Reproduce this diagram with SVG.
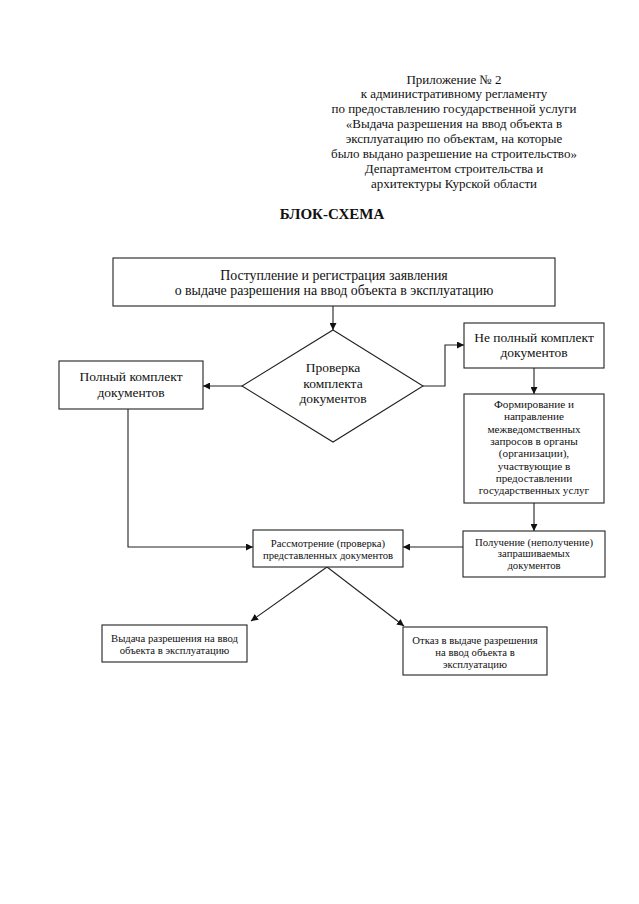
<svg xmlns="http://www.w3.org/2000/svg" width="639" height="904" viewBox="0 0 639 904">
<defs>
<style>
text{font-family:"Liberation Serif","Times New Roman",serif;fill:#111;text-anchor:middle}
.h{font-size:13px}
.m{font-size:13.5px}
.b{font-size:13.9px}
.f{font-size:11.2px}
.s{font-size:10.7px}
.t{font-size:15px;font-weight:bold}
.box{fill:#fff;stroke:#222;stroke-width:1.1}
.ln{fill:none;stroke:#222;stroke-width:1.1}
</style>
<marker id="ah" viewBox="0 0 10 10" refX="10" refY="5" markerWidth="7" markerHeight="7" orient="auto" markerUnits="userSpaceOnUse">
<path d="M0,0 L10,5 L0,10 z" fill="#111"/>
</marker>
</defs>
<rect width="639" height="904" fill="#fff"/>
<g id="header">
<text class="h" x="454" y="83.5">Приложение № 2</text>
<text class="h" x="454" y="98.4">к административному регламенту</text>
<text class="h" x="454" y="113.3">по предоставлению государственной услуги</text>
<text class="h" x="454" y="128.2">«Выдача разрешения на ввод объекта в</text>
<text class="h" x="454" y="143.1">эксплуатацию по объектам, на которые</text>
<text class="h" x="454" y="158">было выдано разрешение на строительство»</text>
<text class="h" x="454" y="172.9">Департаментом строительства и</text>
<text class="h" x="454" y="187.8">архитектуры Курской области</text>
</g>
<g id="title"><text class="t" x="332" y="218.5">БЛОК-СХЕМА</text></g>
<g id="connectors">
<path class="ln" d="M333,306 V330" marker-end="url(#ah)"/>
<path class="ln" d="M242,386 H203" marker-end="url(#ah)"/>
<path class="ln" d="M423,386 H445 V345 H464" marker-end="url(#ah)"/>
<path class="ln" d="M534,368 V394" marker-end="url(#ah)"/>
<path class="ln" d="M534,503 V531" marker-end="url(#ah)"/>
<path class="ln" d="M128,409 V547 H253" marker-end="url(#ah)"/>
<path class="ln" d="M463,547 H403" marker-end="url(#ah)"/>
<path class="ln" d="M327,567 L251,621" marker-end="url(#ah)"/>
<path class="ln" d="M327,567 L404,626" marker-end="url(#ah)"/>
</g>
<g id="n1">
<rect class="box" x="113" y="258" width="442" height="48"/>
<text class="b" x="334" y="280">Поступление и регистрация заявления</text>
<text class="b" x="334" y="294.5">о выдаче разрешения на ввод объекта в эксплуатацию</text>
</g>
<g id="n2">
<polygon class="box" points="333,330 423,386 333,442 242,386"/>
<text class="m" x="333" y="372">Проверка</text>
<text class="m" x="333" y="388">комплекта</text>
<text class="m" x="333" y="403">документов</text>
</g>
<g id="n3">
<rect class="box" x="59" y="361" width="144" height="48"/>
<text class="m" x="131" y="381">Полный комплект</text>
<text class="m" x="131" y="397">документов</text>
</g>
<g id="n4">
<rect class="box" x="464" y="323" width="140" height="45"/>
<text class="m" x="534" y="342">Не полный комплект</text>
<text class="m" x="534" y="357">документов</text>
</g>
<g id="n5">
<rect class="box" x="464" y="394" width="140" height="109"/>
<text class="f" x="534" y="408">Формирование и</text>
<text class="f" x="534" y="420.3">направление</text>
<text class="f" x="534" y="432.6">межведомственных</text>
<text class="f" x="534" y="444.9">запросов в органы</text>
<text class="f" x="534" y="457.2">(организации),</text>
<text class="f" x="534" y="469.5">участвующие в</text>
<text class="f" x="534" y="481.8">предоставлении</text>
<text class="f" x="534" y="494.1">государственных услуг</text>
</g>
<g id="n6">
<rect class="box" x="463" y="531" width="142" height="46"/>
<text class="s" x="534" y="545.5">Получение (неполучение)</text>
<text class="s" x="534" y="557">запрашиваемых</text>
<text class="s" x="534" y="569">документов</text>
</g>
<g id="n7">
<rect class="box" x="253" y="530" width="150" height="37"/>
<text class="s" x="328" y="547">Рассмотрение (проверка)</text>
<text class="s" x="328" y="559">представленных документов</text>
</g>
<g id="n8">
<rect class="box" x="102" y="625" width="145" height="37"/>
<text class="s" x="174.5" y="642">Выдача разрешения на ввод</text>
<text class="s" x="174.5" y="653.5">объекта в эксплуатацию</text>
</g>
<g id="n9">
<rect class="box" x="403" y="627" width="144" height="48"/>
<text class="s" x="475" y="644">Отказ в выдаче разрешения</text>
<text class="s" x="475" y="656">на ввод объекта в</text>
<text class="s" x="475" y="668">эксплуатацию</text>
</g>
</svg>
